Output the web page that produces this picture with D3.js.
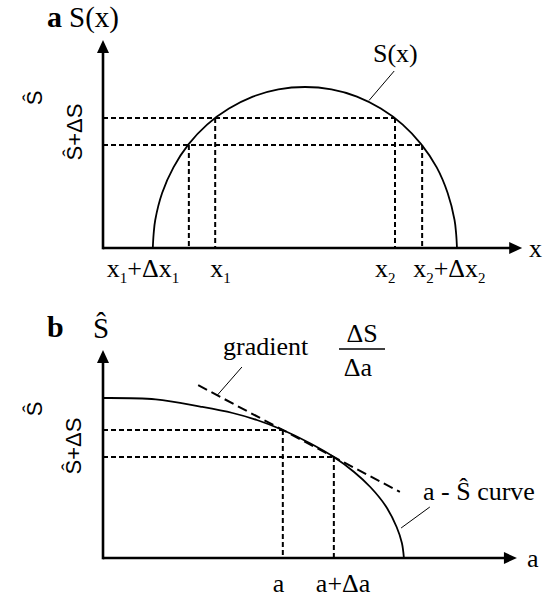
<!DOCTYPE html>
<html><head><meta charset="utf-8">
<script src="https://cdn.jsdelivr.net/npm/d3@7"></script>
<style>body{margin:0;background:#fff}</style>
</head><body>
<svg id="fig" width="547" height="598"></svg>
<script>
// ---- Panel a: S(x) against x ----
const aCurveX = [1.23, 1.25, 1.29, 1.46, 1.74, 2.11, 2.57, 3.11, 3.70, 4.33, 4.99, 5.64, 6.27, 6.86, 7.40, 7.86, 8.24, 8.51, 8.68, 8.72, 8.74];
const aCurveS = [0.00, 0.70, 1.40, 2.75, 4.03, 5.18, 6.17, 6.97, 7.57, 7.93, 8.05, 7.93, 7.57, 6.97, 6.17, 5.18, 4.03, 2.75, 1.40, 0.70, 0.00];
const aLevels = [6.5, 5.15];                 // Ŝ and Ŝ+ΔS
const aLevelLabels = ["Ŝ", "Ŝ+ΔS"];
const aCrossX = [2.12, 2.77, 7.21, 7.88];    // x1+Δx1, x1, x2, x2+Δx2
const aCrossS = [5.15, 6.5, 6.5, 5.15];
const aTickLabels = ["x_1+Δx_1", "x_1", "x_2", "x_2+Δx_2"];

// ---- Panel b: Ŝ against a ----
const bCurveA = [0.00, 1.30, 2.40, 3.20, 3.80, 4.44, 5.10, 5.70, 6.20, 6.60, 6.98, 7.25, 7.38, 7.43];
const bCurveS = [8.00, 7.93, 7.57, 7.25, 6.90, 6.40, 5.75, 5.05, 4.30, 3.55, 2.60, 1.55, 0.75, 0.00];
const bLevels = [6.4, 5.05];
const bLevelLabels = ["Ŝ", "Ŝ+ΔS"];
const bCrossA = [4.44, 5.70];                // a, a+Δa
const bCrossS = [6.4, 5.05];
const bTickLabels = ["a", "a+Δa"];
const bGradientSpan = [2.35, 7.33];          // extent of the secant drawn through both points

const svg = d3.select("#fig");
const serif = "'Liberation Serif','Times New Roman',serif";
const sans = "'Liberation Sans',Arial,sans-serif";

function arrowHead(g, tip, dir) {
  const [x, y] = tip, L = 13, W = 6;
  const pts = dir === "up"
    ? [[x, y], [x - W, y + L], [x + W, y + L]]
    : [[x, y], [x - L, y - W], [x - L, y + W]];
  g.append("path").attr("d", d3.line()(pts) + "Z").attr("fill", "#000");
}

function subText(sel, str, mainSize, subSize) {
  const parts = str.split("_");
  parts.forEach((p, i) => {
    if (i === 0) { sel.append("tspan").text(p); return; }
    sel.append("tspan").attr("font-size", subSize).attr("dy", 6).text(p[0]);
    if (p.length > 1) sel.append("tspan").attr("font-size", mainSize).attr("dy", -6).text(p.slice(1));
  });
}

function panel(opt) {
  const g = svg.append("g");
  const x = d3.scaleLinear([0, 10], opt.xRange);
  const y = d3.scaleLinear([0, 10], opt.yRange);
  const x0 = x(0), y0 = y(0);

  // dashed guides
  opt.levels.forEach((lv, i) => {
    g.append("line").attr("x1", x0).attr("x2", x(opt.levelEnd[i]))
      .attr("y1", y(lv)).attr("y2", y(lv))
      .attr("stroke", "#000").attr("stroke-width", 2).attr("stroke-dasharray", "5,3");
  });
  opt.crossX.forEach((cx, i) => {
    g.append("line").attr("x1", x(cx)).attr("x2", x(cx))
      .attr("y1", y(opt.crossS[i])).attr("y2", y0)
      .attr("stroke", "#000").attr("stroke-width", 2).attr("stroke-dasharray", "5,3");
  });

  // curve
  const line = d3.line().x(d => x(d[0])).y(d => y(d[1])).curve(d3.curveCatmullRom.alpha(0.5));
  g.append("path").datum(d3.zip(opt.curveX, opt.curveY)).attr("d", line)
    .attr("fill", "none").attr("stroke", "#000").attr("stroke-width", 1.8);

  // axes with arrows
  const xTip = x(opt.xTip), yTip = y(opt.yTip);
  g.append("line").attr("x1", x0).attr("x2", xTip - 10).attr("y1", y0).attr("y2", y0)
    .attr("stroke", "#000").attr("stroke-width", 2.6);
  g.append("line").attr("x1", x0).attr("x2", x0).attr("y1", y0 + 1.3).attr("y2", yTip + 10)
    .attr("stroke", "#000").attr("stroke-width", 2.6);
  arrowHead(g, [xTip, y0], "right");
  arrowHead(g, [x0, yTip], "up");

  // rotated level labels
  opt.levelLabels.forEach((t, i) => {
    const [lx, ly] = opt.levelLabelPos[i];
    g.append("text").attr("transform", `translate(${lx},${y(ly)}) rotate(-90)`)
      .attr("text-anchor", "middle").attr("font-family", sans).attr("font-size", 22).text(t);
  });

  // tick labels under the x axis
  opt.tickLabels.forEach((t, i) => {
    const tx = g.append("text").attr("x", x(opt.crossX[i]) + opt.tickDx[i]).attr("y", y0 + opt.tickDy)
      .attr("font-family", serif).attr("font-size", 26);
    subText(tx, t, 26, 15);
  });
  return {g, x, y};
}

// Panel a
const A = panel({
  xRange: [103, 508], yRange: [248, 48],
  curveX: aCurveX, curveY: aCurveS,
  levels: aLevels, levelEnd: [7.21, 7.88],
  crossX: aCrossX, crossS: aCrossS,
  xTip: 10.35, yTip: 10.4,
  levelLabels: aLevelLabels, levelLabelPos: [[42, 7.5], [82, 5.8]],
  tickLabels: aTickLabels, tickDx: [-82, -5, -20, -9], tickDy: 29
});
A.g.append("text").attr("x", 529).attr("y", 257).attr("font-family", serif).attr("font-size", 26).text("x");
A.g.append("text").attr("x", 47).attr("y", 27).attr("font-family", serif).attr("font-size", 30).attr("font-weight", "bold").text("a");
A.g.append("text").attr("x", 69).attr("y", 27).attr("font-family", serif).attr("font-size", 29).text("S(x)");
A.g.append("text").attr("x", 373).attr("y", 62).attr("font-family", serif).attr("font-size", 26).text("S(x)");
A.g.append("line").attr("x1", A.x(7.19)).attr("y1", A.y(8.85)).attr("x2", A.x(6.57)).attr("y2", A.y(7.38))
  .attr("stroke", "#000").attr("stroke-width", 1);

// Panel b
const B = panel({
  xRange: [103, 508], yRange: [558, 358],
  curveX: bCurveA, curveY: bCurveS,
  levels: bLevels, levelEnd: [4.44, 5.70],
  crossX: bCrossA, crossS: bCrossS,
  xTip: 10.22, yTip: 10.4,
  levelLabels: bLevelLabels, levelLabelPos: [[42, 7.45], [81, 5.6]],
  tickLabels: bTickLabels, tickDx: [-10, -18], tickDy: 34
});
// secant through (a, Ŝ) and (a+Δa, Ŝ+ΔS)
const slope = (bCrossS[1] - bCrossS[0]) / (bCrossA[1] - bCrossA[0]);
const secant = bGradientSpan.map(a => [B.x(a), B.y(bCrossS[0] + slope * (a - bCrossA[0]))]);
B.g.append("path").attr("d", d3.line()(secant)).attr("stroke", "#000").attr("stroke-width", 2)
  .attr("stroke-dasharray", "10,5").attr("fill", "none");
B.g.append("text").attr("x", 527).attr("y", 567).attr("font-family", serif).attr("font-size", 26).text("a");
B.g.append("text").attr("x", 47).attr("y", 337).attr("font-family", serif).attr("font-size", 30).attr("font-weight", "bold").text("b");
B.g.append("text").attr("x", 93).attr("y", 338).attr("font-family", serif).attr("font-size", 29).text("Ŝ");
B.g.append("text").attr("x", 223).attr("y", 355).attr("font-family", serif).attr("font-size", 26).text("gradient");
B.g.append("text").attr("x", 362).attr("y", 342).attr("text-anchor", "middle").attr("font-family", serif).attr("font-size", 26).text("ΔS");
B.g.append("line").attr("x1", 339).attr("x2", 385).attr("y1", 349).attr("y2", 349).attr("stroke", "#000").attr("stroke-width", 1.5);
B.g.append("text").attr("x", 358).attr("y", 376).attr("text-anchor", "middle").attr("font-family", serif).attr("font-size", 26).text("Δa");
// leader from "gradient" to the secant
const gx = 2.82;
B.g.append("line").attr("x1", B.x(3.43)).attr("y1", B.y(9.55))
  .attr("x2", B.x(gx)).attr("y2", B.y(bCrossS[0] + slope * (gx - bCrossA[0])))
  .attr("stroke", "#000").attr("stroke-width", 1);
B.g.append("text").attr("x", 423).attr("y", 500).attr("font-family", serif).attr("font-size", 26).text("a - Ŝ curve");
B.g.append("line").attr("x1", B.x(8.07)).attr("y1", B.y(2.55)).attr("x2", B.x(7.36)).attr("y2", B.y(1.5))
  .attr("stroke", "#000").attr("stroke-width", 1);
</script>
</body></html>
